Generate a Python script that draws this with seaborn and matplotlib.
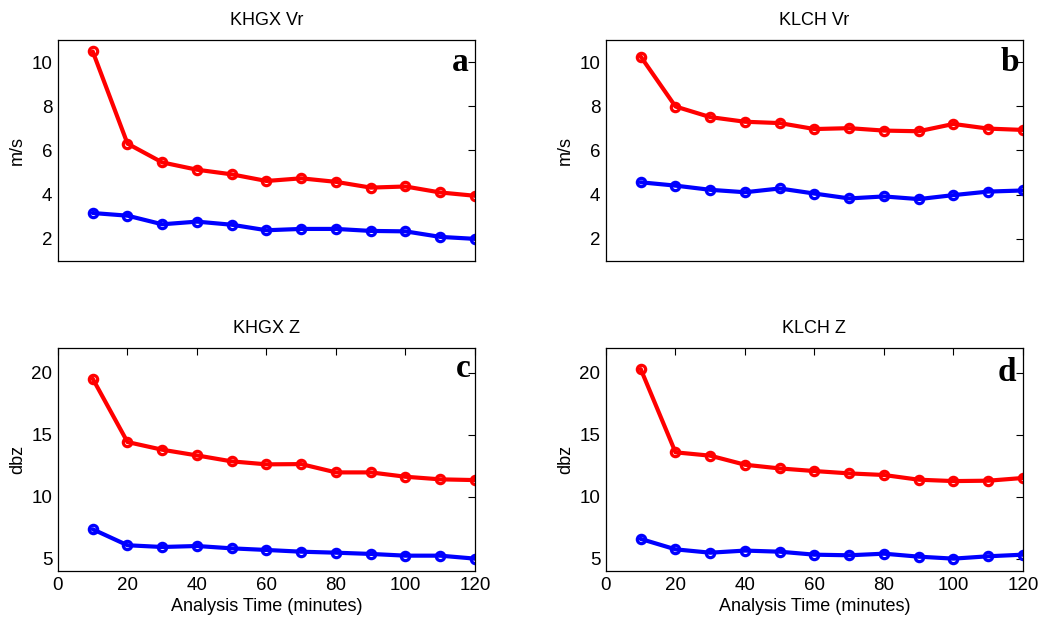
import matplotlib
matplotlib.use("Agg")
import matplotlib.pyplot as plt
import seaborn as sns
import numpy as np

minutes = [10, 20, 30, 40, 50, 60, 70, 80, 90, 100, 110, 120]

khgx_vr_red = [10.48, 6.31, 5.46, 5.13, 4.92, 4.62, 4.74, 4.58, 4.32, 4.37, 4.10, 3.95]
khgx_vr_blue = [3.17, 3.05, 2.66, 2.78, 2.64, 2.39, 2.45, 2.45, 2.36, 2.34, 2.09, 2.00]
klch_vr_red = [10.25, 7.99, 7.51, 7.30, 7.24, 6.97, 7.01, 6.90, 6.87, 7.20, 6.99, 6.93]
klch_vr_blue = [4.56, 4.41, 4.22, 4.11, 4.28, 4.05, 3.83, 3.92, 3.80, 3.98, 4.14, 4.19]
khgx_z_red = [19.52, 14.41, 13.79, 13.33, 12.85, 12.61, 12.63, 11.96, 11.96, 11.61, 11.40, 11.34]
khgx_z_blue = [7.37, 6.08, 5.94, 6.02, 5.83, 5.70, 5.56, 5.48, 5.38, 5.24, 5.24, 5.00]
klch_z_red = [20.30, 13.58, 13.31, 12.58, 12.28, 12.07, 11.88, 11.75, 11.37, 11.26, 11.29, 11.51]
klch_z_blue = [6.59, 5.75, 5.48, 5.65, 5.56, 5.32, 5.27, 5.40, 5.16, 5.00, 5.19, 5.32]

titles = ["KHGX Vr", "KLCH Vr", "KHGX Z", "KLCH Z"]
letters = ["a", "b", "c", "d"]
ylabels = ["m/s", "m/s", "dbz", "dbz"]
xticks = [0, 20, 40, 60, 80, 100, 120]

sns.set_style("white")
plt.rcParams["font.family"] = ["Liberation Sans", "DejaVu Sans"]
plt.rcParams["xtick.direction"] = "in"
plt.rcParams["ytick.direction"] = "in"
plt.rcParams["text.color"] = "black"
plt.rcParams["axes.labelcolor"] = "black"
plt.rcParams["xtick.color"] = "black"
plt.rcParams["ytick.color"] = "black"

fig = plt.figure(figsize=(10.43, 6.19), dpi=100)
positions = [
    [0.0556, 0.5784, 0.3998, 0.3570],
    [0.5810, 0.5784, 0.3998, 0.3570],
    [0.0556, 0.0775, 0.3998, 0.3603],
    [0.5810, 0.0775, 0.3998, 0.3603],
]
series = [
    (khgx_vr_red, khgx_vr_blue),
    (klch_vr_red, klch_vr_blue),
    (khgx_z_red, khgx_z_blue),
    (klch_z_red, klch_z_blue),
]
letter_pos = [(0.985, 0.90), (0.99, 0.90), (0.99, 0.91), (0.985, 0.89)]

for i in range(4):
    ax = fig.add_axes(positions[i])
    red, blue = series[i]
    for vals, col in [(red, "#ff0000"), (blue, "#0000ff")]:
        sns.lineplot(x=minutes, y=vals, ax=ax, color=col, linewidth=3.0,
                     marker="o", markersize=6, markerfacecolor="none",
                     markeredgecolor=col, markeredgewidth=2.3)
    ax.set_xlim(0, 120)
    if i < 2:
        ax.set_ylim(1, 11)
        ax.set_yticks([2, 4, 6, 8, 10])
        ax.set_xticks([])
    else:
        ax.set_ylim(4, 22)
        ax.set_yticks([5, 10, 15, 20])
        ax.set_xticks(xticks)
        ax.set_xlabel("Analysis Time (minutes)", fontsize=13, labelpad=3)
    ax.set_ylabel(ylabels[i], fontsize=13, labelpad=4)
    ax.set_title(titles[i], fontsize=13, pad=11)
    ax.tick_params(axis="both", labelsize=13.5, length=5, width=0.8,
                   top=True, right=True, color="black", labelcolor="black", pad=4)
    for s in ax.spines.values():
        s.set_color("black")
        s.set_linewidth(0.9)
        s.set_visible(True)
    lx, ly = letter_pos[i]
    ax.text(lx, ly, letters[i], transform=ax.transAxes, ha="right", va="center",
            fontsize=24, fontweight="bold", family="Liberation Serif", color="black")

fig.savefig("out.png", dpi=100)
